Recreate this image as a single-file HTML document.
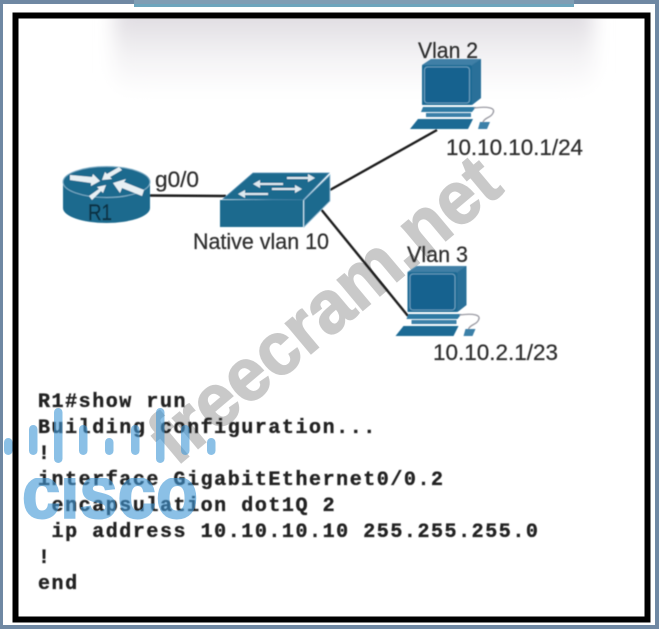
<!DOCTYPE html>
<html><head><meta charset="utf-8"><style>
html,body{margin:0;padding:0;background:#6f88a3}
svg{display:block}
text{font-family:"Liberation Sans",sans-serif}
.l{fill:#2e2e2e;font-size:22px;stroke:#2e2e2e;stroke-width:0.25px}
.m{font-family:"Liberation Mono",monospace;font-weight:700;font-size:20px;letter-spacing:1.55px;fill:#222;stroke:#222;stroke-width:0.35px;white-space:pre}
</style></head><body>
<svg width="659" height="629" viewBox="0 0 659 629" xmlns="http://www.w3.org/2000/svg">
<defs>
<linearGradient id="g" x1="0" y1="0" x2="0" y2="1"><stop offset="0.2" stop-color="#dfdce1"/><stop offset="0.6" stop-color="#f3f2f4"/><stop offset="1" stop-color="#fff"/></linearGradient>
<filter id="b" x="-10%" y="-30%" width="120%" height="160%"><feGaussianBlur stdDeviation="9"/></filter>
<filter id="s"><feGaussianBlur stdDeviation="0.45"/></filter>
<clipPath id="c"><rect x="0" y="478" width="300" height="60"/></clipPath>
<clipPath id="i"><rect x="19" y="19" width="626" height="598"/></clipPath>
<g id="pc">
<polygon points="422,65 431,59 481,59 481,98 472,105 422,105" fill="#3f7fa6"/>
<rect x="422" y="65" width="50" height="40" rx="2" fill="#1f6a94"/>
<rect x="424.500" y="67" width="45" height="36" rx="3" fill="#15628f" stroke="#7fb0cc" stroke-width="0.800"/>
<polygon points="472,65 481,59 481,98 472,105" fill="#2c7099"/>
<polygon points="423,107 476,107 472,112 421,112" fill="#2f7aa3"/>
<rect x="426" y="113" width="45" height="4" fill="#3b80a8"/>
<polygon points="418,119 473,119 468,129 410,129" fill="#1f6a94"/>
<polygon points="480,122 490,122 487,129 478,129" fill="#3b80a8"/>
<path d="M474 108 C488 106 496 108 493 113 C491 118 485 117 483 122" fill="none" stroke="#9a9aa2" stroke-width="1.3"/>
</g>
</defs>
<rect x="3" y="4" width="652" height="621" fill="#fff"/>
<rect x="134" y="0" width="440" height="7" fill="#7f9db4"/>
<rect x="134" y="4" width="440" height="3" fill="#6da5bd"/>
<g clip-path="url(#i)"><rect x="114" y="-5" width="480" height="100" rx="24" fill="url(#g)" filter="url(#b)"/></g>
<rect x="15.500" y="15.500" width="632" height="604" fill="none" stroke="#000" stroke-width="6"/>
<text x="176" y="467" transform="rotate(-40 176 467)" font-size="75" font-weight="700" fill="#c9c9c9" stroke="#c9c9c9" stroke-width="1.500" textLength="430" lengthAdjust="spacingAndGlyphs">freecram.net</text>
<g filter="url(#s)">
<g stroke="#1c1c1c" stroke-width="2.400" fill="none">
<line x1="148" y1="195.500" x2="226" y2="196"/>
<line x1="330" y1="190" x2="437" y2="130"/>
<line x1="320" y1="208" x2="408" y2="316"/>
</g>
<path d="M63 182 V208 A43.500 15 0 0 0 150 208 V182 Z" fill="#1f6a8e"/>
<ellipse cx="106.500" cy="182" rx="43.500" ry="15.500" fill="#1f6a8e" stroke="#7fb0c9" stroke-width="1"/>
<g fill="#e8f0f4">
<polygon points="70,175 92,177 93,174 100,181 91,186 91,183 70,180"/>
<polygon points="122,170 110,177 112,179 102,180 105,172 107,174 119,167"/>
<polygon points="89,196 99,189 97,187 106,185 103,193 101,191 92,200"/>
<polygon points="144,190 124,182 126,179 113,183 120,193 122,188 142,196"/>
</g>
<text x="88" y="220" class="l" style="fill:#0f3344;stroke:#0f3344;stroke-width:.4px" textLength="24" lengthAdjust="spacingAndGlyphs">R1</text>
<polygon points="223,199 253,173 329,173 303,200" fill="#1f6a8e" stroke="#4d8bb0" stroke-width="0.800"/>
<rect x="220" y="200" width="83" height="27" fill="#1f6a8e"/>
<polygon points="304,200 330,175 330,201 304,227" fill="#1f6a8e" stroke="#8fbdd6" stroke-width="0.800"/>
<g fill="none" stroke="#dfeaf0" stroke-width="2">
<path d="M255 184 H283 M287 178 H310 M241 194 H268 M272 189 H298"/>
</g>
<g fill="#dfeaf0">
<polygon points="253,184 260,180 260,188"/><polygon points="315,178 308,174 308,182"/>
<polygon points="238,194 245,190 245,198"/><polygon points="302,189 295,185 295,193"/>
</g>
<use href="#pc"/>
<use href="#pc" transform="translate(-14.500 207)"/>
<text x="155" y="187" class="l" textLength="44" lengthAdjust="spacingAndGlyphs">g0/0</text>
<text x="193" y="249" class="l" textLength="136" lengthAdjust="spacingAndGlyphs">Native vlan 10</text>
<text x="418" y="58" class="l" textLength="60" lengthAdjust="spacingAndGlyphs">Vlan 2</text>
<text x="446" y="155" class="l" textLength="137" lengthAdjust="spacingAndGlyphs">10.10.10.1/24</text>
<text x="407" y="262" class="l" textLength="61" lengthAdjust="spacingAndGlyphs">Vlan 3</text>
<text x="433" y="360" class="l" textLength="125" lengthAdjust="spacingAndGlyphs">10.10.2.1/23</text>
<text class="m" x="38" y="407">R1#show run</text>
<text class="m" x="38" y="433">Building configuration...</text>
<text class="m" x="38" y="459">!</text>
<text class="m" x="38" y="485">interface GigabitEthernet0/0.2</text>
<text class="m" x="38" y="511"> encapsulation dot1Q 2</text>
<text class="m" x="38" y="537"> ip address 10.10.10.10 255.255.255.0</text>
<text class="m" x="38" y="563">!</text>
<text class="m" x="38" y="589">end</text>
</g>
<g fill="#3f97d6" opacity="0.6">
<rect x="4" y="438" width="8.500" height="17" rx="4.200"/>
<rect x="29" y="425" width="8.500" height="30" rx="4.200"/>
<rect x="54" y="408" width="8.500" height="55" rx="4.200"/>
<rect x="79" y="425" width="8.500" height="30" rx="4.200"/>
<rect x="105" y="438" width="8.500" height="17" rx="4.200"/>
<rect x="131" y="425" width="8.500" height="30" rx="4.200"/>
<rect x="156" y="408" width="8.500" height="55" rx="4.200"/>
<rect x="181" y="425" width="8.500" height="30" rx="4.200"/>
<rect x="207" y="438" width="8.500" height="17" rx="4.200"/>
<text x="22" y="518" font-size="74" font-weight="700" stroke="#3f97d6" stroke-width="2" paint-order="stroke" textLength="176" lengthAdjust="spacingAndGlyphs" clip-path="url(#c)">cisco</text>
</g>
</svg>
</body></html>
